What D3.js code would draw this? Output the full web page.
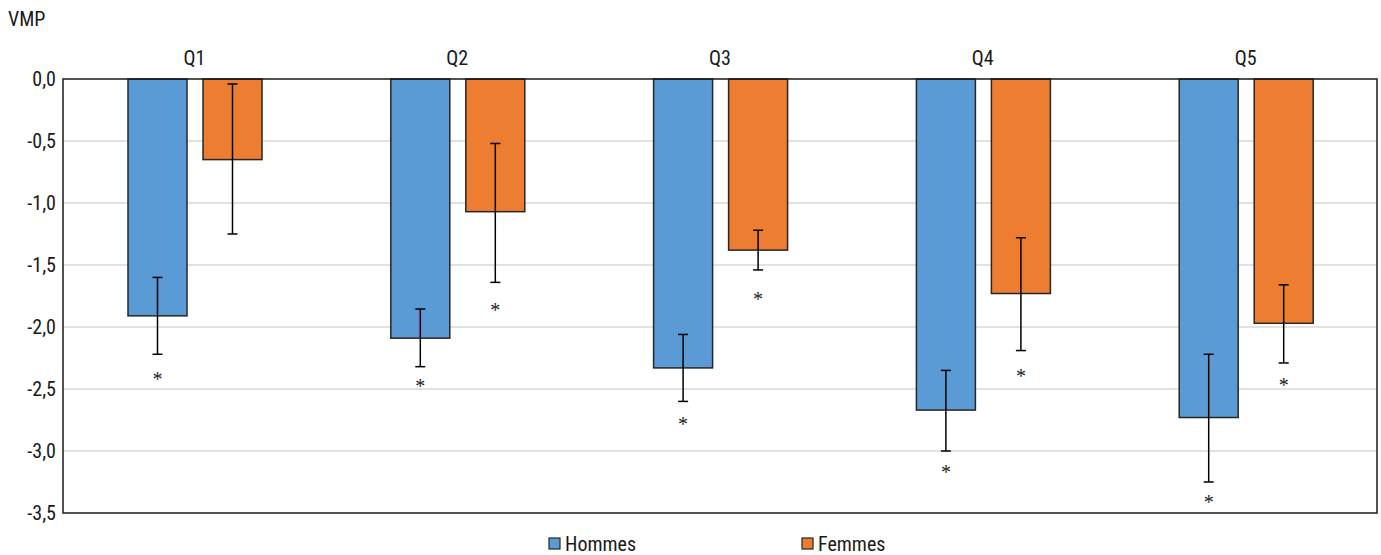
<!DOCTYPE html>
<html>
<head>
<meta charset="utf-8">
<script src="https://cdn.jsdelivr.net/npm/d3@7"></script>
<style>
  body { margin: 0; background: #fff; }
  text { font-family: "Liberation Sans Narrow", "Roboto Condensed", "Arial Narrow", sans-serif; fill: #1a1a1a; }
  .grid line { stroke: #d9d9d9; stroke-width: 1.5; }
  .axis path, .axis line { display: none; }
</style>
</head>
<body>
<div id="chart"></div>
<script>
// quintiles and series
var categories = ['Q1', 'Q2', 'Q3', 'Q4', 'Q5'];
var series = ['Hommes', 'Femmes'];
var colors = ['#5b9bd5', '#ed7d31'];

var hommes = [-1.91, -2.09, -2.33, -2.67, -2.73];
var hommesLow = [-2.22, -2.32, -2.60, -3.00, -3.25];
var hommesHigh = [-1.60, -1.855, -2.06, -2.35, -2.22];
// where the significance star sits (null = not significant)
var hommesStar = [-2.395, -2.45, -2.755, -3.145, -3.387];

var femmes = [-0.65, -1.07, -1.38, -1.73, -1.97];
var femmesLow = [-1.25, -1.64, -1.54, -2.19, -2.29];
var femmesHigh = [-0.04, -0.52, -1.22, -1.28, -1.66];
var femmesStar = [null, -1.84, -1.75, -2.37, -2.446];

var yTicks = [0, -0.5, -1, -1.5, -2, -2.5, -3, -3.5];

var width = 1381, height = 555;
var margin = { top: 79, right: 4, bottom: 42, left: 63 };
var fontSize = '20px';

var svg = d3.select('#chart').append('svg')
    .attr('width', width)
    .attr('height', height);

var x = d3.scaleBand()
    .domain(categories)
    .range([margin.left, width - margin.right]);

// two bars of 59px with a 16px gap, offset inside each quintile band
var x1 = d3.scaleBand()
    .domain(series)
    .range([65, 65 + 59 * 2 + 16])
    .paddingInner(16 / 75);

var y = d3.scaleLinear()
    .domain([0, -3.5])
    .range([margin.top, height - margin.bottom]);

// gridlines
svg.append('g')
    .attr('class', 'grid')
    .selectAll('line')
    .data(yTicks.slice(1, -1))
    .enter().append('line')
    .attr('x1', margin.left)
    .attr('x2', width - margin.right)
    .attr('y1', d => y(d))
    .attr('y2', d => y(d));

// y tick labels
var fmt = d => d3.format('.1f')(d).replace('.', ',').replace('−', '-');
svg.append('g')
    .attr('class', 'axis')
    .attr('transform', 'translate(' + margin.left + ',0)')
    .call(d3.axisLeft(y).tickValues(yTicks).tickFormat(fmt).tickSize(0).tickPadding(7))
    .selectAll('text')
    .style('font-size', fontSize);

// y title
svg.append('text')
    .attr('x', 8)
    .attr('y', 26)
    .style('font-size', fontSize)
    .text('VMP');

// category labels on top
svg.append('g')
    .attr('class', 'axis')
    .attr('transform', 'translate(0,' + (margin.top - 14) + ')')
    .call(d3.axisTop(x).tickSize(0).tickPadding(0))
    .selectAll('text')
    .style('font-size', fontSize);

var rows = [];
categories.forEach((c, i) => {
    rows.push({ cat: c, s: 'Hommes', v: hommes[i], lo: hommesLow[i], hi: hommesHigh[i], star: hommesStar[i], color: colors[0] });
    rows.push({ cat: c, s: 'Femmes', v: femmes[i], lo: femmesLow[i], hi: femmesHigh[i], star: femmesStar[i], color: colors[1] });
});

// bars
svg.append('g')
    .selectAll('rect')
    .data(rows)
    .enter().append('rect')
    .attr('x', d => x(d.cat) + x1(d.s))
    .attr('width', x1.bandwidth())
    .attr('y', y(0))
    .attr('height', d => y(d.v) - y(0))
    .attr('fill', d => d.color)
    .attr('stroke', '#262626')
    .attr('stroke-width', 1.5);

// error bars
var eb = svg.append('g').attr('stroke', '#000').attr('stroke-width', 1.5);
rows.forEach(d => {
    var cx = x(d.cat) + x1(d.s) + x1.bandwidth() / 2;
    eb.append('line').attr('x1', cx).attr('x2', cx).attr('y1', y(d.hi)).attr('y2', y(d.lo));
    eb.append('line').attr('x1', cx - 5).attr('x2', cx + 5).attr('y1', y(d.hi)).attr('y2', y(d.hi));
    eb.append('line').attr('x1', cx - 5).attr('x2', cx + 5).attr('y1', y(d.lo)).attr('y2', y(d.lo));
});

// significance stars
svg.append('g')
    .selectAll('text')
    .data(rows.filter(d => d.star !== null))
    .enter().append('text')
    .attr('x', d => x(d.cat) + x1(d.s) + x1.bandwidth() / 2)
    .attr('y', d => y(d.star) + 10)
    .attr('text-anchor', 'middle')
    .style('font-family', '"Liberation Serif", "DejaVu Serif", serif')
    .style('font-size', '20px')
    .text('*');

// plot frame
svg.append('rect')
    .attr('x', margin.left)
    .attr('y', margin.top)
    .attr('width', width - margin.right - margin.left)
    .attr('height', height - margin.bottom - margin.top)
    .attr('fill', 'none')
    .attr('stroke', '#1a1a1a')
    .attr('stroke-width', 1.5);

// legend
var legendX = [549, 802];
var legend = svg.append('g')
    .selectAll('g')
    .data(series)
    .enter().append('g')
    .attr('transform', (d, i) => 'translate(' + legendX[i] + ',538)');

legend.append('rect')
    .attr('width', 11)
    .attr('height', 11)
    .attr('fill', (d, i) => colors[i])
    .attr('stroke', '#262626')
    .attr('stroke-width', 1.2);

legend.append('text')
    .attr('x', 16)
    .attr('y', 13)
    .style('font-size', fontSize)
    .text(d => d);
</script>
</body>
</html>
